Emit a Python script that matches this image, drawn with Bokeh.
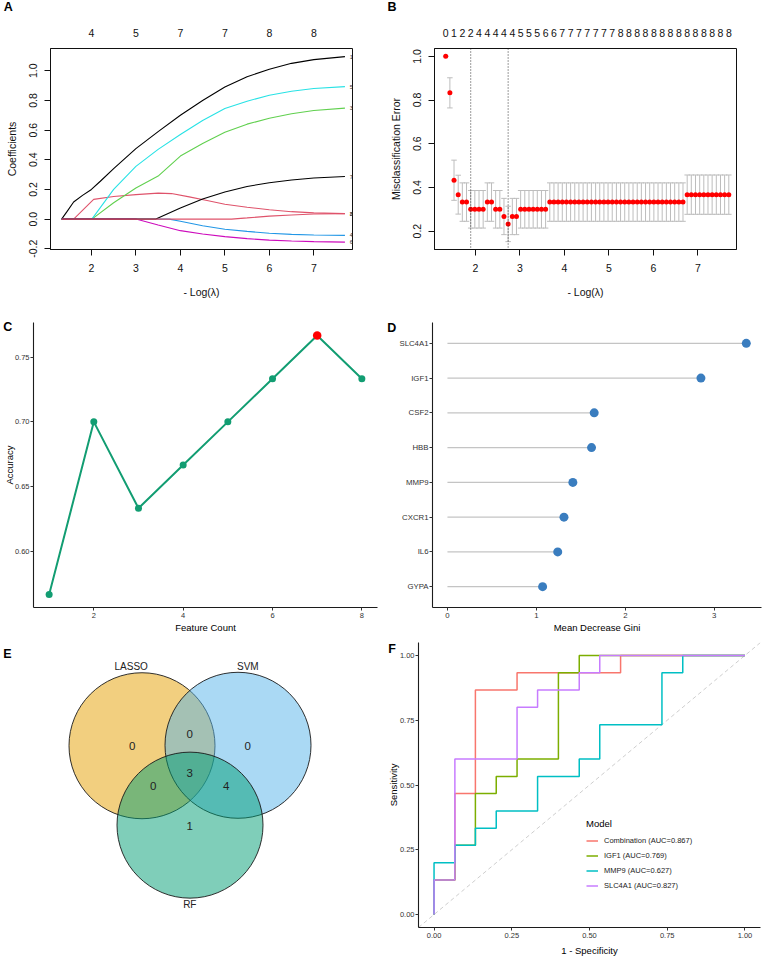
from bokeh.plotting import figure
from bokeh.layouts import column, row
from bokeh.models import (Range1d, FixedTicker, PrintfTickFormatter, Label, Span, Title,
                          Slope, Legend, LegendItem, LinearAxis)
from bokeh.core.properties import value
from bokeh.embed import file_html
from bokeh.resources import INLINE

FONT = "Liberation Sans"
INK = "#111111"

# ---------------- A: LASSO coefficient paths against -log(lambda) ----------------
coef1_x = [1.33, 1.45, 1.60, 1.80, 2.00, 2.20, 2.50, 3.00, 3.50, 4.00, 4.50, 5.00, 5.50, 6.00, 6.50, 7.00, 7.70]
coef1_y = [0.000, 0.050, 0.115, 0.160, 0.200, 0.255, 0.340, 0.475, 0.590, 0.700, 0.800, 0.890, 0.960, 1.010, 1.050, 1.075, 1.095]
coef2_x = [1.33, 1.60, 2.05, 2.50, 3.00, 3.50, 3.80, 4.20, 4.60, 5.00, 5.50, 6.00, 6.50, 7.00, 7.70]
coef2_y = [0.000, 0.000, 0.133, 0.152, 0.165, 0.175, 0.172, 0.150, 0.125, 0.100, 0.080, 0.063, 0.050, 0.042, 0.037]
coef3_x = [1.33, 2.01, 2.50, 3.00, 3.50, 4.00, 4.50, 5.00, 5.50, 6.00, 6.50, 7.00, 7.70]
coef3_y = [0.000, 0.000, 0.110, 0.210, 0.290, 0.425, 0.510, 0.585, 0.640, 0.680, 0.710, 0.732, 0.748]
coef4_x = [1.33, 3.75, 4.00, 4.50, 5.00, 5.50, 6.00, 6.50, 7.00, 7.70]
coef4_y = [0.000, 0.000, -0.015, -0.045, -0.068, -0.083, -0.095, -0.103, -0.107, -0.110]
coef5_x = [1.33, 2.01, 2.50, 3.00, 3.50, 4.00, 4.50, 5.00, 5.50, 6.00, 6.50, 7.00, 7.70]
coef5_y = [0.000, 0.000, 0.200, 0.355, 0.470, 0.570, 0.665, 0.745, 0.795, 0.835, 0.862, 0.880, 0.893]
coef6_x = [1.33, 3.00, 3.50, 4.00, 4.50, 5.00, 5.50, 6.00, 6.50, 7.00, 7.70]
coef6_y = [0.000, 0.000, -0.040, -0.078, -0.100, -0.118, -0.132, -0.142, -0.148, -0.152, -0.155]
coef7_x = [1.33, 3.45, 4.00, 4.50, 5.00, 5.50, 6.00, 6.50, 7.00, 7.70]
coef7_y = [0.000, 0.000, 0.075, 0.135, 0.183, 0.220, 0.245, 0.264, 0.277, 0.287]
coef8_x = [1.33, 5.15, 5.50, 6.00, 6.50, 7.00, 7.70]
coef8_y = [0.000, 0.000, 0.008, 0.020, 0.028, 0.034, 0.037]
coef_top_ticks = [2, 3, 4, 5, 6, 7]
coef_top_nzero = ["4", "5", "7", "7", "8", "8"]

# ---------------- B: 10-fold CV misclassification error ----------------
cv_neg_log_lambda = [
    1.332, 1.426, 1.519, 1.613, 1.706, 1.800, 1.894, 1.987, 2.081, 2.174,
    2.268, 2.362, 2.455, 2.549, 2.642, 2.736, 2.830, 2.923, 3.017, 3.110,
    3.204, 3.298, 3.391, 3.485, 3.578, 3.672, 3.766, 3.859, 3.953, 4.046,
    4.140, 4.234, 4.327, 4.421, 4.514, 4.608, 4.702, 4.795, 4.889, 4.982,
    5.076, 5.170, 5.263, 5.357, 5.450, 5.544, 5.638, 5.731, 5.825, 5.918,
    6.012, 6.106, 6.199, 6.293, 6.386, 6.480, 6.574, 6.667, 6.761, 6.854,
    6.948, 7.042, 7.135, 7.229, 7.322, 7.416, 7.510, 7.603, 7.697]
cv_error = [
    1.000, 0.833, 0.433, 0.367, 0.333, 0.333, 0.300, 0.300, 0.300, 0.300,
    0.333, 0.333, 0.300, 0.300, 0.267, 0.233, 0.267, 0.267, 0.300, 0.300,
    0.300, 0.300, 0.300, 0.300, 0.300, 0.333, 0.333, 0.333, 0.333, 0.333,
    0.333, 0.333, 0.333, 0.333, 0.333, 0.333, 0.333, 0.333, 0.333, 0.333,
    0.333, 0.333, 0.333, 0.333, 0.333, 0.333, 0.333, 0.333, 0.333, 0.333,
    0.333, 0.333, 0.333, 0.333, 0.333, 0.333, 0.333, 0.333, 0.367, 0.367,
    0.367, 0.367, 0.367, 0.367, 0.367, 0.367, 0.367, 0.367, 0.367]
cv_error_sd = [
    0.000, 0.069, 0.092, 0.089, 0.088, 0.088, 0.086, 0.086, 0.086, 0.086,
    0.088, 0.088, 0.086, 0.086, 0.083, 0.081, 0.083, 0.083, 0.086, 0.086,
    0.086, 0.086, 0.086, 0.086, 0.086, 0.088, 0.088, 0.088, 0.088, 0.088,
    0.088, 0.088, 0.088, 0.088, 0.088, 0.088, 0.088, 0.088, 0.088, 0.088,
    0.088, 0.088, 0.088, 0.088, 0.088, 0.088, 0.088, 0.088, 0.088, 0.088,
    0.088, 0.088, 0.088, 0.088, 0.088, 0.088, 0.088, 0.088, 0.090, 0.090,
    0.090, 0.090, 0.090, 0.090, 0.090, 0.090, 0.090, 0.090, 0.090]
# number of non-zero coefficients, shown at every second lambda
cv_nzero_labels = ["0", "1", "2", "2", "4", "4", "4", "4", "4", "5", "5", "5",
                   "6", "6", "7", "7", "7", "7", "7", "7", "7",
                   "8", "8", "8", "8", "8", "8", "8", "8", "8", "8", "8", "8", "8", "8"]

# ---------------- C: SVM-RFE accuracy by feature count ----------------
feature_count = [1, 2, 3, 4, 5, 6, 7, 8]
accuracy = [0.5667, 0.7000, 0.6333, 0.6667, 0.7000, 0.7333, 0.7667, 0.7333]

# ---------------- D: random forest importance ----------------
rf_genes = ["SLC4A1", "IGF1", "CSF2", "HBB", "MMP9", "CXCR1", "IL6", "GYPA"]
rf_gini = [3.36, 2.85, 1.65, 1.62, 1.41, 1.31, 1.24, 1.07]

# ---------------- E: overlap of selected genes ----------------
venn_sets = ["LASSO", "SVM", "RF"]
venn_regions = ["LASSO", "SVM", "RF", "LASSO&SVM", "LASSO&RF", "SVM&RF", "LASSO&SVM&RF"]
venn_counts = [0, 0, 1, 0, 0, 4, 3]

# ---------------- F: ROC curves ----------------
roc_models = ["Combination", "IGF1", "MMP9", "SLC4A1"]
roc_auc = [0.867, 0.769, 0.627, 0.827]
comb_fpr = [0.000, 0.000, 0.067, 0.067, 0.133, 0.133, 0.267, 0.267, 0.600, 0.600, 1.000]
comb_tpr = [0.000, 0.133, 0.133, 0.467, 0.467, 0.867, 0.867, 0.933, 0.933, 1.000, 1.000]
igf1_fpr = [0.000, 0.000, 0.067, 0.067, 0.133, 0.133, 0.200, 0.200, 0.267, 0.267, 0.400, 0.400, 0.467, 0.467, 1.000]
igf1_tpr = [0.000, 0.133, 0.133, 0.267, 0.267, 0.467, 0.467, 0.533, 0.533, 0.600, 0.600, 0.933, 0.933, 1.000, 1.000]
mmp9_fpr = [0.000, 0.000, 0.067, 0.067, 0.133, 0.133, 0.200, 0.200, 0.333, 0.333, 0.467, 0.467,
            0.533, 0.533, 0.733, 0.733, 0.800, 0.800, 1.000]
mmp9_tpr = [0.000, 0.200, 0.200, 0.267, 0.267, 0.333, 0.333, 0.400, 0.400, 0.533, 0.533, 0.600,
            0.600, 0.733, 0.733, 0.933, 0.933, 1.000, 1.000]
slc4a1_fpr = [0.000, 0.000, 0.067, 0.067, 0.267, 0.267, 0.333, 0.333, 0.467, 0.467, 0.533, 0.533, 1.000]
slc4a1_tpr = [0.000, 0.133, 0.133, 0.600, 0.600, 0.800, 0.800, 0.867, 0.867, 0.933, 0.933, 1.000, 1.000]


# ---------------- helpers ----------------
def base_fig(width, height, xr, yr, left, right, top, bottom, **kw):
    p = figure(width=width, height=height, x_range=Range1d(*xr), y_range=Range1d(*yr),
               min_border_left=left, min_border_right=right,
               min_border_top=top, min_border_bottom=bottom,
               output_backend="svg", toolbar_location=None, **kw)
    p.grid.visible = False
    p.background_fill_color = "white"
    p.border_fill_color = "white"
    return p


def panel_letter(p, letter, offset, standoff, drop=False):
    # bold panel tag in the top border, offset from the frame's left edge;
    # a leading blank line lets the tag sit level with the top of the frame
    text = "\n" + letter if drop else letter
    p.add_layout(Title(text=text, align="left", vertical_align="bottom",
                       offset=offset, standoff=standoff, text_font=FONT,
                       text_font_size="12.5px", text_font_style="bold",
                       text_line_height=1.0, text_color="black"), "above")


def r_axes(p, yticks, yfmt):
    p.outline_line_color = INK
    p.outline_line_width = 1
    xa, ya = p.below[0], p.left[0]
    for ax in (xa, ya):
        ax.axis_line_color = INK
        ax.major_tick_line_color = INK
        ax.major_tick_out = 6
        ax.major_tick_in = 0
        ax.minor_tick_line_color = None
        ax.major_label_text_font = FONT
        ax.major_label_text_font_size = "10.5px"
        ax.major_label_text_color = INK
        ax.axis_label_text_font = FONT
        ax.axis_label_text_font_size = "10.5px"
        ax.axis_label_text_font_style = "normal"
        ax.axis_label_text_color = INK
    xa.ticker = FixedTicker(ticks=[2, 3, 4, 5, 6, 7])
    xa.major_label_standoff = 8
    xa.axis_label_standoff = 11
    ya.ticker = FixedTicker(ticks=yticks)
    ya.formatter = PrintfTickFormatter(format=yfmt)
    ya.major_label_orientation = "vertical"
    ya.major_label_standoff = 7
    ya.axis_label_standoff = 9


def r_top_axis(p, ticks, labels):
    # non-zero counts along the top; the blank axis label reserves room for the panel tag
    ax = LinearAxis(ticker=FixedTicker(ticks=list(ticks)),
                    major_label_overrides={t: s for t, s in zip(ticks, labels)},
                    axis_line_color=None, major_tick_line_color=None,
                    minor_tick_line_color=None, major_tick_out=0, major_tick_in=0,
                    major_label_standoff=12, major_label_text_font=FONT,
                    major_label_text_font_size="10.5px", major_label_text_color=INK,
                    axis_label=" ", axis_label_text_font_size="6px",
                    axis_label_standoff=6)
    p.add_layout(ax, "above")


def gg_axes(p, tick_size="7.5px"):
    p.outline_line_color = None
    for ax in list(p.below) + list(p.left):
        ax.axis_line_color = "#1c1c1c"
        ax.axis_line_width = 1.1
        ax.major_tick_line_color = "#333333"
        ax.major_tick_out = 3
        ax.major_tick_in = 0
        ax.minor_tick_line_color = None
        ax.major_label_text_font = FONT
        ax.major_label_text_font_size = tick_size
        ax.major_label_text_color = "#333333"
        ax.axis_label_text_font = FONT
        ax.axis_label_text_font_size = "9.5px"
        ax.axis_label_text_font_style = "normal"
        ax.axis_label_text_color = "black"
        ax.major_label_standoff = 2
        ax.axis_label_standoff = 1


# ---------------- A ----------------
pa = base_fig(384, 300, (1.08, 7.87), (-0.205, 1.15), 50, 32, 48, 49,
              x_axis_label="- Log(λ)", y_axis_label="Coefficients")
r_axes(pa, [-0.2, 0.0, 0.2, 0.4, 0.6, 0.8, 1.0], "%.1f")
r_top_axis(pa, coef_top_ticks, coef_top_nzero)
path_colors = ["black", "#DF536B", "#61D04F", "#2297E6", "#28E2E5", "#CD0BBC", "black", "#DF536B"]
paths = [(coef1_x, coef1_y), (coef2_x, coef2_y), (coef3_x, coef3_y), (coef4_x, coef4_y),
         (coef5_x, coef5_y), (coef6_x, coef6_y), (coef7_x, coef7_y), (coef8_x, coef8_y)]
for (xs, ys), col in zip(paths, path_colors):
    pa.line(xs, ys, line_color=col, line_width=1.1)
for i, (xs, ys) in enumerate(paths):
    pa.text(x=[xs[-1] + 0.14], y=[ys[-1]], text=[str(i + 1)], text_font=value(FONT),
            text_font_size="5.5px", text_align="center", text_baseline="middle",
            text_color="#333333")
panel_letter(pa, "A", -46.7, -6)

# ---------------- B ----------------
pb = base_fig(383, 300, (1.08, 7.87), (0.116, 1.036), 50, 31, 48, 49,
              x_axis_label="- Log(λ)", y_axis_label="Misclassification Error")
r_axes(pb, [0.2, 0.4, 0.6, 0.8, 1.0], "%.1f")
r_top_axis(pb, cv_neg_log_lambda[::2], cv_nzero_labels)
cv_lo = [m - s for m, s in zip(cv_error, cv_error_sd)]
cv_hi = [m + s for m, s in zip(cv_error, cv_error_sd)]
cap = 0.062
bar_col = "#BDBDBD"
pb.segment(x0=cv_neg_log_lambda, y0=cv_lo, x1=cv_neg_log_lambda, y1=cv_hi,
           line_color=bar_col, line_width=1)
pb.segment(x0=[x - cap for x in cv_neg_log_lambda], y0=cv_hi,
           x1=[x + cap for x in cv_neg_log_lambda], y1=cv_hi, line_color=bar_col, line_width=1)
pb.segment(x0=[x - cap for x in cv_neg_log_lambda], y0=cv_lo,
           x1=[x + cap for x in cv_neg_log_lambda], y1=cv_lo, line_color=bar_col, line_width=1)
pb.scatter(cv_neg_log_lambda, cv_error, size=5, color="#FF0000", line_color=None)
i_min = min(range(len(cv_error)), key=lambda i: (cv_error[i], -i))
thr = cv_error[i_min] + cv_error_sd[i_min]
i_1se = min(i for i in range(len(cv_error)) if cv_error[i] <= thr)
for i in (i_1se, i_min):
    pb.add_layout(Span(location=cv_neg_log_lambda[i], dimension="height",
                       line_color="#222222", line_width=0.9, line_dash="1 2"))
panel_letter(pb, "B", -47.0, -6)

# ---------------- C ----------------
pc = base_fig(384, 335, (0.65, 8.35), (0.5567, 0.7767), 33, 7, 22, 26,
              x_axis_label="Feature Count", y_axis_label="Accuracy")
gg_axes(pc)
pc.left[0].major_label_standoff = 1
pc.left[0].axis_label_standoff = -3
pc.below[0].ticker = FixedTicker(ticks=[2, 4, 6, 8])
pc.left[0].ticker = FixedTicker(ticks=[0.60, 0.65, 0.70, 0.75])
pc.left[0].formatter = PrintfTickFormatter(format="%.2f")
acc_green = "#129D72"
pc.line(feature_count, accuracy, line_color=acc_green, line_width=2)
best = max(range(len(accuracy)), key=lambda i: accuracy[i])
others = [i for i in range(len(accuracy)) if i != best]
pc.scatter([feature_count[i] for i in others], [accuracy[i] for i in others],
           size=7, color=acc_green, line_color=None)
pc.scatter([feature_count[best]], [accuracy[best]], size=8.5, color="#FF0000", line_color=None)
panel_letter(pc, "C", -30.3, -22.7, drop=True)

# ---------------- D ----------------
pd_ = base_fig(383, 335, (-0.168, 3.531), (0.4, 8.6), 48, 6, 21, 27,
               x_axis_label="Mean Decrease Gini")
gg_axes(pd_, tick_size="7.8px")
gene_pos = list(range(len(rf_genes), 0, -1))
pd_.below[0].ticker = FixedTicker(ticks=[0, 1, 2, 3])
pd_.left[0].ticker = FixedTicker(ticks=gene_pos)
pd_.left[0].major_label_overrides = {pos: g for pos, g in zip(gene_pos, rf_genes)}
pd_.left[0].major_label_standoff = 1
pd_.segment(x0=[0] * len(rf_gini), y0=gene_pos, x1=rf_gini, y1=gene_pos,
            line_color="#C4C4C4", line_width=1.1)
pd_.scatter(rf_gini, gene_pos, size=9, color="#3A7DBF", line_color=None)
panel_letter(pd_, "D", -45.3, -24.7, drop=True)

# ---------------- E ----------------
pe = figure(width=384, height=323, x_range=Range1d(0, 384), y_range=Range1d(323, 0),
            x_axis_type=None, y_axis_type=None, min_border=0,
            output_backend="svg", toolbar_location=None)
pe.grid.visible = False
pe.outline_line_color = None
venn_layout = {
    "centers": {"LASSO": (141.5, 117.0), "SVM": (237.5, 116.5), "RF": (189.5, 207.0)},
    "radius": 73.0,
    "set_label": {"LASSO": (130.7, 27.7), "SVM": (247.3, 27.7), "RF": (189.3, 297.3)},
    "region_label": {"LASSO": (131.7, 117.7), "SVM": (247.3, 117.7), "RF": (189.3, 207.7),
                     "LASSO&SVM": (189.3, 104.0), "LASSO&RF": (152.7, 162.7),
                     "SVM&RF": (225.7, 162.7), "LASSO&SVM&RF": (189.3, 148.3)},
}
venn_fill = {"LASSO": "#E69F00", "SVM": "#56B4E9", "RF": "#009E73"}
for s in venn_sets:
    cx, cy = venn_layout["centers"][s]
    pe.circle(x=[cx], y=[cy], radius=venn_layout["radius"], fill_color=venn_fill[s],
              fill_alpha=0.5, line_color="#1a1a1a", line_width=0.9)
pe.text(x=[venn_layout["set_label"][s][0] for s in venn_sets],
        y=[venn_layout["set_label"][s][1] for s in venn_sets], text=venn_sets,
        text_font=value(FONT), text_font_size="10px", text_align="center",
        text_baseline="middle", text_color="#222222")
pe.text(x=[venn_layout["region_label"][r][0] for r in venn_regions],
        y=[venn_layout["region_label"][r][1] for r in venn_regions],
        text=[str(c) for c in venn_counts], text_font=value(FONT), text_font_size="11.5px",
        text_align="center", text_baseline="middle", text_color="#222222")
pe.add_layout(Label(x=2.7, y=5.6, text="E", text_font=FONT, text_font_size="12.5px",
                    text_font_style="bold", text_color="black", text_baseline="top"))

# ---------------- F ----------------
pf = base_fig(383, 323, (-0.05, 1.05), (-0.05, 1.05), 33, 7, 7, 29,
              x_axis_label="1 - Specificity", y_axis_label="Sensitivity")
gg_axes(pf)
pf.left[0].major_label_standoff = 1
pf.left[0].axis_label_standoff = -2
for ax in (pf.below[0], pf.left[0]):
    ax.ticker = FixedTicker(ticks=[0.0, 0.25, 0.5, 0.75, 1.0])
    ax.formatter = PrintfTickFormatter(format="%.2f")
pf.below[0].axis_label_standoff = 4
pf.add_layout(Slope(gradient=1, y_intercept=0, line_color="#C8C8C8", line_width=0.9,
                    line_dash="4 3", level="underlay"))
roc_colors = ["#F8766D", "#7CAE00", "#00BFC4", "#C77CFF"]
roc_paths = [(comb_fpr, comb_tpr), (igf1_fpr, igf1_tpr), (mmp9_fpr, mmp9_tpr), (slc4a1_fpr, slc4a1_tpr)]
items = []
for name, auc, (fx, fy), col in zip(roc_models, roc_auc, roc_paths, roc_colors):
    r = pf.line(fx, fy, line_color=col, line_width=1.5)
    items.append(LegendItem(label=f"{name} (AUC={auc:.3f})", renderers=[r]))
legend = Legend(items=items, title="Model", location=(168, 34),
                title_text_font=FONT, title_text_font_size="9.5px", title_text_font_style="normal",
                title_text_color="black", title_standoff=4,
                label_text_font=FONT, label_text_font_size="7.5px", label_text_color="#222222",
                glyph_width=12, glyph_height=15, label_height=15, label_standoff=6,
                spacing=0, padding=0, margin=0, background_fill_alpha=0,
                border_line_color=None)
pf.add_layout(legend)
panel_letter(pf, "F", -30.3, -26, drop=True)

layout = column(row(pa, pb), row(pc, pd_), row(pe, pf))
open("out.html", "w").write(file_html(layout, INLINE, title="Feature selection"))
